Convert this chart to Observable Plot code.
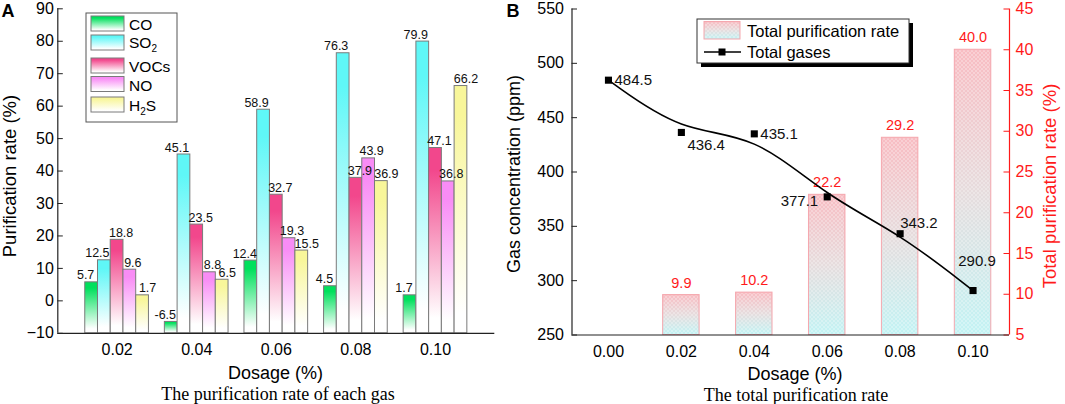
<!DOCTYPE html>
<html><head><meta charset="utf-8">
<script src="https://cdn.jsdelivr.net/npm/d3@7"></script>
<script src="https://cdn.jsdelivr.net/npm/@observablehq/plot@0.6"></script>
<style>
body{margin:0;background:#fff;}
#wrap{position:relative;width:1065px;height:404px;overflow:hidden;font-family:"Liberation Sans",Arial,sans-serif;}
#left,#right{position:absolute;top:0;}
#left{left:0px} #right{left:505px}
.cap{position:absolute;font-family:"Liberation Serif","Times New Roman",serif;font-size:18px;line-height:18px;white-space:nowrap;transform:translateX(-50%);color:#000;}
</style></head><body>
<div id="wrap"><div id="left"></div><div id="right"></div>
<div class="cap" style="left:278px;top:385px">The purification rate of each gas</div>
<div class="cap" style="left:796px;top:385.5px">The total purification rate</div>
</div>
<script>
// ---------- data: panel A ----------
const dosages = [0.02, 0.04, 0.06, 0.08, 0.10];
const gases = ["CO", "SO2", "VOCs", "NO", "H2S"];
const CO   = [5.7, -6.5, 12.4, 4.5, 1.7];
const SO2  = [12.5, 45.1, 58.9, 76.3, 79.9];
const VOCs = [18.8, 23.5, 32.7, 37.9, 47.1];
const NO   = [9.6, 8.8, 19.3, 43.9, 36.8];
const H2S  = [1.7, 6.5, 15.5, 36.9, 66.2];
const yTicksA = [-10, 0, 10, 20, 30, 40, 50, 60, 70, 80, 90];
// ---------- data: panel B ----------
const lineDosages = [0.00, 0.02, 0.04, 0.06, 0.08, 0.10];
const totalGases = [484.5, 436.4, 435.1, 377.1, 343.2, 290.9];
const rateDosages = [0.02, 0.04, 0.06, 0.08, 0.10];
const totalRate = [9.9, 10.2, 22.2, 29.2, 40.0];
const xTicksB = [0.00, 0.02, 0.04, 0.06, 0.08, 0.10];
const yTicksB = [250, 300, 350, 400, 450, 500, 550];
const rateTicks = [5, 10, 15, 20, 25, 30, 35, 40, 45];

// ---------- styles ----------
const gasColor = {CO: "#00e05c", SO2: "#5ff7f7", VOCs: "#f2478c", NO: "#f88cf5", H2S: "#f8f69a"};
const labelNudge = {CO: -6, SO2: -7, VOCs: 4, NO: 3, H2S: 5};
const BW = 0.0032;       // bar width (data units) in panel A
const BWB = 0.005;       // half bar width in panel B
const font = "Liberation Sans, Arial, sans-serif";
const series = {CO, SO2, VOCs, NO, H2S};

const rowsA = [];
gases.forEach((g, gi) => dosages.forEach((d, di) => rowsA.push({dose: d, gas: g, gi, value: series[g][di]})));

// ---------- panel A ----------
const WA = 505, HA = 384;
const plotA = Plot.plot({
  width: WA, height: HA,
  marginLeft: 57.3, marginRight: 10.7, marginTop: 8.3, marginBottom: HA - 332.8,
  style: {fontFamily: font, fontSize: "16px", color: "black", background: "transparent"},
  x: {domain: [0.0051, 0.1149]},
  y: {domain: [-10, 90]},
  marks: [
    ...gases.map(g => Plot.rectY(rowsA.filter(r => r.gas === g), {
      x1: r => r.dose + (r.gi - 2.5) * BW, x2: r => r.dose + (r.gi - 1.5) * BW,
      y1: -10, y2: "value", fill: `url(#gA_${g})`, stroke: "#7a7a7a", strokeWidth: 1
    })),
    ...gases.map(g => Plot.text(rowsA.filter(r => r.gas === g), {
      x: r => r.dose + (r.gi - 2) * BW, y: "value", text: r => r.value.toFixed(1),
      lineAnchor: "bottom", dy: -3, dx: labelNudge[g], fontSize: 12.5, fill: "#111"
    })),
    Plot.ruleY(yTicksA, {y: d => d, insetRight: WA - 57.3 - 10.7 - 5.5, stroke: "#222"}),
    Plot.ruleX([0.0051], {stroke: "#222", strokeWidth: 1.2}),
    Plot.ruleY([-10], {stroke: "#222", strokeWidth: 1.2}),
    Plot.axisY(yTicksA, {anchor: "left", tickSize: 0, tickPadding: 4, fontSize: 16, label: null}),
    Plot.axisX(dosages, {anchor: "bottom", tickSize: 0, tickPadding: 10, fontSize: 16, label: null, tickFormat: d3.format(".2f")})
  ]
});

// ---------- panel B ----------
const WB = 560, HB = 384;
const toPpm = v => 250 + (v - 5) * 7.5;
const fromPpm = p => (p - 250) / 7.5 + 5;
const lineRows = lineDosages.map((d, i) => ({dose: d, gas: totalGases[i], i}));
const rateRows = rateDosages.map((d, i) => ({dose: d, rate: totalRate[i]}));
const lineLabelPlace = [
  {dx: 6, dy: 0, textAnchor: "start"},
  {dx: 6, dy: 13, textAnchor: "start"},
  {dx: 6, dy: 0, textAnchor: "start"},
  {dx: -9, dy: 4, textAnchor: "end"},
  {dx: 0, dy: -11, textAnchor: "start"},
  {dx: 4, dy: -29, textAnchor: "middle"}
];
const fwB = WB - 66.5 - 56;
const plotB = Plot.plot({
  width: WB, height: HB,
  marginLeft: 66.5, marginRight: 56, marginTop: 8.5, marginBottom: HB - 334.5,
  style: {fontFamily: font, fontSize: "16px", color: "black", background: "transparent"},
  x: {domain: [-0.01, 0.11]},
  y: {domain: [250, 550]},
  marks: [
    Plot.rectY(rateRows, {x1: d => d.dose - BWB, x2: d => d.dose + BWB, y1: toPpm(5), y2: d => toPpm(d.rate), fill: "url(#gRate)", stroke: "#f5a7ae", strokeWidth: 1}),
    Plot.rectY(rateRows, {x1: d => d.dose - BWB, x2: d => d.dose + BWB, y1: toPpm(5), y2: d => toPpm(d.rate), fill: "url(#chk)", insetTop: 1, insetLeft: 1, insetRight: 1}),
    Plot.text(rateRows, {x: "dose", y: d => toPpm(d.rate), text: d => d.rate.toFixed(1), dy: -12, fill: "#ff1a1a", fontSize: 14.5}),
    Plot.line(lineRows, {x: "dose", y: "gas", curve: "basis", stroke: "black", strokeWidth: 1.6}),
    Plot.dot(lineRows, {x: "dose", y: "gas", symbol: "square", r: 4, fill: "black"}),
    ...lineLabelPlace.map((p, i) => Plot.text(lineRows.filter(r => r.i === i), {x: "dose", y: "gas", text: r => r.gas.toFixed(1), fontSize: 15, fill: "#111", ...p})),
    Plot.ruleY(yTicksB, {y: d => d, insetRight: fwB - 5.5, stroke: "#222"}),
    Plot.ruleY(rateTicks.map(toPpm), {y: d => d, insetLeft: fwB - 5.5, stroke: "#ff1a1a"}),
    Plot.ruleX([-0.01], {stroke: "#222", strokeWidth: 1.2}),
    Plot.ruleX([0.11], {stroke: "#ff1a1a", strokeWidth: 1.2}),
    Plot.ruleY([250], {stroke: "#222", strokeWidth: 1.2}),
    Plot.axisY(yTicksB, {anchor: "left", tickSize: 0, tickPadding: 8, fontSize: 16, label: null}),
    Plot.axisY(rateTicks.map(toPpm), {anchor: "right", tickSize: 0, tickPadding: 6, fontSize: 16, label: null, color: "#ff1a1a", tickFormat: p => String(Math.round(fromPpm(p)))}),
    Plot.axisX(xTicksB, {anchor: "bottom", tickSize: 0, tickPadding: 11, fontSize: 16, label: null, tickFormat: d3.format(".2f")})
  ]
});

document.getElementById("left").appendChild(plotA);
document.getElementById("right").appendChild(plotB);

// ---------- defs (gradients, pattern) ----------
const defsA = d3.select(plotA).insert("defs", ":first-child");
gases.forEach(g => {
  const lg = defsA.append("linearGradient").attr("id", `gA_${g}`).attr("x1", 0).attr("y1", 0).attr("x2", 0).attr("y2", 1);
  lg.append("stop").attr("offset", 0).attr("stop-color", gasColor[g]);
  lg.append("stop").attr("offset", 0.12).attr("stop-color", gasColor[g]);
  lg.append("stop").attr("offset", 0.92).attr("stop-color", "#ffffff");
  lg.append("stop").attr("offset", 1).attr("stop-color", "#ffffff");
});
const defsB = d3.select(plotB).insert("defs", ":first-child");
{
  const lg = defsB.append("linearGradient").attr("id", "gRate").attr("x1", 0).attr("y1", 0).attr("x2", 0).attr("y2", 1);
  lg.append("stop").attr("offset", 0).attr("stop-color", "#f8bcc2");
  lg.append("stop").attr("offset", 0.5).attr("stop-color", "#e6dcdd");
  lg.append("stop").attr("offset", 1).attr("stop-color", "#c2f3f4");
  const pt = defsB.append("pattern").attr("id", "chk").attr("width", 4).attr("height", 4).attr("patternUnits", "userSpaceOnUse");
  pt.append("rect").attr("x", 0).attr("y", 0).attr("width", 2).attr("height", 2).attr("fill", "#fff").attr("fill-opacity", 0.28);
  pt.append("rect").attr("x", 2).attr("y", 2).attr("width", 2).attr("height", 2).attr("fill", "#fff").attr("fill-opacity", 0.28);
}

// ---------- panel A annotations ----------
const sA = d3.select(plotA);
sA.append("text").attr("x", 1.5).attr("y", 17).attr("text-anchor", "start").attr("font-size", 18).attr("font-weight", "bold").attr("font-family", font).text("A");
sA.append("text").attr("transform", "translate(15.5,176) rotate(-90)").attr("text-anchor", "middle").attr("font-size", 18.5).attr("font-family", font).text("Purification rate (%)");
sA.append("text").attr("x", 275.5).attr("y", 378.5).attr("text-anchor", "middle").attr("font-size", 18).attr("font-family", font).text("Dosage (%)");
// legend A
const lgA = sA.append("g").attr("font-family", font).attr("font-size", 15.5).attr("text-anchor", "start");
lgA.append("rect").attr("x", 86).attr("y", 13).attr("width", 91).attr("height", 109).attr("fill", "#fff").attr("stroke", "#555");
const legItems = [
  {g: "CO", y: 16, base: 30},
  {g: "SO2", y: 35, base: 48},
  {g: "VOCs", y: 58, base: 72},
  {g: "NO", y: 76.5, base: 91},
  {g: "H2S", y: 97, base: 110.5}
];
legItems.forEach(it => {
  lgA.append("rect").attr("x", 91).attr("y", it.y).attr("width", 33).attr("height", 15).attr("fill", `url(#gA_${it.g})`).attr("stroke", "#7a7a7a");
  const t = lgA.append("text").attr("x", 129).attr("y", it.base);
  if (it.g === "SO2") { t.append("tspan").text("SO"); t.append("tspan").attr("font-size", 10).attr("dy", 4).text("2"); }
  else if (it.g === "H2S") { t.append("tspan").text("H"); t.append("tspan").attr("font-size", 10).attr("dy", 4).text("2"); t.append("tspan").attr("dy", -4).text("S"); }
  else t.text(it.g);
});

// ---------- panel B annotations ----------
const sB = d3.select(plotB);
const ox = 505;
sB.append("text").attr("x", 506.5 - ox).attr("y", 17).attr("text-anchor", "start").attr("font-size", 18).attr("font-weight", "bold").attr("font-family", font).text("B");
sB.append("text").attr("transform", `translate(${519.5 - ox},174) rotate(-90)`).attr("text-anchor", "middle").attr("font-size", 18).attr("font-family", font).text("Gas concentration (ppm)");
sB.append("text").attr("transform", `translate(${1055.5 - ox},186) rotate(-90)`).attr("text-anchor", "middle").attr("font-size", 18.5).attr("font-family", font).attr("fill", "#ff1a1a").text("Total purification rate (%)");
sB.append("text").attr("x", 795 - ox).attr("y", 380).attr("text-anchor", "middle").attr("font-size", 18).attr("font-family", font).text("Dosage (%)");
// legend B
const lgB = sB.append("g").attr("font-family", font).attr("font-size", 16.5).attr("text-anchor", "start");
lgB.append("rect").attr("x", 701 - ox).attr("y", 23).attr("width", 212).attr("height", 44).attr("fill", "#000");
lgB.append("rect").attr("x", 697 - ox).attr("y", 19).attr("width", 212).attr("height", 44).attr("fill", "#fff").attr("stroke", "#333");
lgB.append("rect").attr("x", 704 - ox).attr("y", 21.5).attr("width", 36).attr("height", 17.5).attr("fill", "url(#gRate)").attr("stroke", "#f5a7ae");
lgB.append("rect").attr("x", 705 - ox).attr("y", 22.5).attr("width", 34).attr("height", 15.5).attr("fill", "url(#chk)");
lgB.append("text").attr("x", 747 - ox).attr("y", 36.5).text("Total purification rate");
lgB.append("line").attr("x1", 704 - ox).attr("x2", 741 - ox).attr("y1", 52).attr("y2", 52).attr("stroke", "#000").attr("stroke-width", 1.6);
lgB.append("rect").attr("x", 718.5 - ox).attr("y", 48.5).attr("width", 7).attr("height", 7).attr("fill", "#000");
lgB.append("text").attr("x", 747 - ox).attr("y", 58).text("Total gases");
</script>
</body></html>
